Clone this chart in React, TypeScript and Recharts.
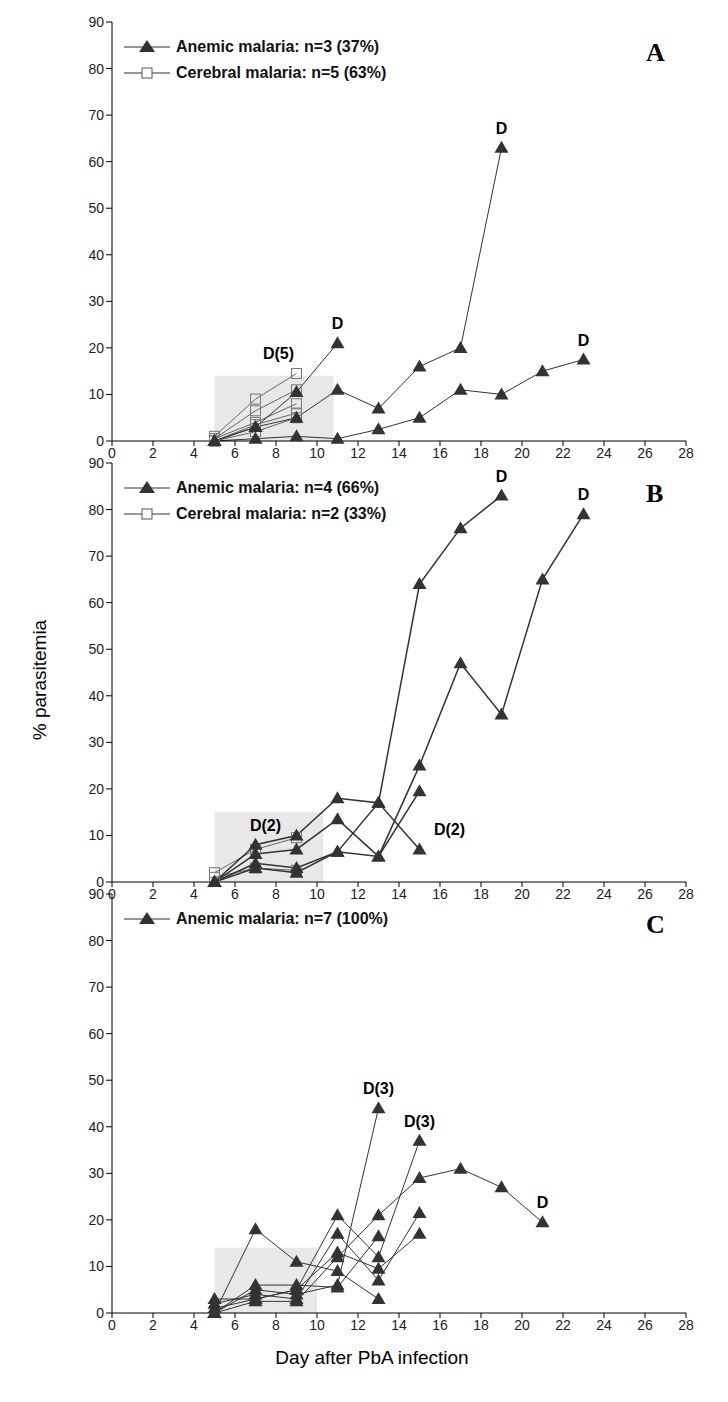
import React from "react";
import {
  LineChart,
  Line,
  XAxis,
  YAxis,
  ReferenceArea,
  ReferenceDot,
} from "recharts";

document.body.style.margin = "0";

type Pt = { day: number; pct: number };
const days = [5, 7, 9, 11, 13, 15, 17, 19, 21, 23];
const mk = (vals: number[]): Pt[] => vals.map((v, i) => ({ day: days[i], pct: v }));

const xTicks = [0, 2, 4, 6, 8, 10, 12, 14, 16, 18, 20, 22, 24, 26, 28];
const yTicks = [0, 10, 20, 30, 40, 50, 60, 70, 80, 90];

// Panel A
const anemicA = [
  [0, 3, 10.5, 21],
  [0, 3, 5, 11, 7, 16, 20, 63],
  [0, 0.5, 1, 0.5, 2.5, 5, 11, 10, 15, 17.5],
];
const cerebralA = [
  [1, 9, 14.5],
  [0.5, 6.5, 11],
  [0.5, 4, 8],
  [0, 3.5, 6],
  [0, 2, 5],
];
const labelsA = [
  { day: 9, pct: 14.5, text: "D(5)", dx: -18 },
  { day: 11, pct: 21, text: "D", dx: 0 },
  { day: 19, pct: 63, text: "D", dx: 0 },
  { day: 23, pct: 17.5, text: "D", dx: 0 },
];

// Panel B
const anemicB = [
  [0, 8, 10, 18, 17, 64, 76, 83],
  [0, 6, 7, 13.5, 5.5, 25, 47, 36, 65, 79],
  [0, 3, 2, 6.5, 17, 7],
  [0, 4, 3, 6.5, 5.5, 19.5],
];
const cerebralB = [
  [2, 7, 9.5],
  [1, 3, 2.5],
];
const labelsB = [
  { day: 7, pct: 8, text: "D(2)", dx: 10 },
  { day: 15, pct: 7, text: "D(2)", dx: 30 },
  { day: 19, pct: 83, text: "D", dx: 0 },
  { day: 23, pct: 79, text: "D", dx: 0 },
];

// Panel C
const anemicC = [
  [0, 18, 11, 9, 3],
  [1, 3, 5, 21, 12, 37],
  [0, 5, 4, 6, 44],
  [2, 4, 3, 17, 7, 21.5],
  [0, 2.5, 2.5, 12, 21, 29, 31, 27, 19.5],
  [0, 6, 6, 5.5, 16.5],
  [3, 3, 5, 13, 9.5, 17],
];
const labelsC = [
  { day: 13, pct: 44, text: "D(3)", dx: 0 },
  { day: 15, pct: 37, text: "D(3)", dx: 0 },
  { day: 21, pct: 19.5, text: "D", dx: 0 },
];

const Tri = (props: any) => {
  const { cx, cy } = props;
  if (cx == null || cy == null) return null;
  return <path d={`M${cx},${cy - 7}L${cx + 7},${cy + 5}L${cx - 7},${cy + 5}Z`} fill="#333" />;
};
const Sq = (props: any) => {
  const { cx, cy } = props;
  if (cx == null || cy == null) return null;
  return <rect x={cx - 5} y={cy - 5} width={10} height={10} fill="none" stroke="#777" strokeWidth={1} />;
};

const tickStyle = { fontFamily: "Liberation Sans, Arial", fontSize: 14, fill: "#222" };

function Panel({
  top,
  anemic,
  cerebral,
  labels,
  shadeX,
  shadeY,
  letter,
  legend,
  strokeW,
}: {
  top: number;
  anemic: number[][];
  cerebral: number[][];
  labels: { day: number; pct: number; text: string; dx: number }[];
  shadeX: number;
  shadeY: number;
  letter: string;
  legend: string[];
  strokeW: number;
}) {
  return (
    <div style={{ position: "absolute", top, left: 0, width: 728, height: 470 }}>
      <LineChart width={728} height={470} margin={{ top: 22, right: 42, bottom: 4, left: 72 }}>
        <XAxis
          type="number"
          dataKey="day"
          domain={[0, 28]}
          ticks={xTicks}
          height={25}
          tick={tickStyle}
          tickSize={5}
          stroke="#000"
          allowDuplicatedCategory={false}
        />
        <YAxis
          type="number"
          dataKey="pct"
          domain={[0, 90]}
          ticks={yTicks}
          width={40}
          tick={tickStyle}
          tickSize={6}
          stroke="#000"
        />
        <ReferenceArea x1={5} x2={shadeX} y1={0} y2={shadeY} fill="#e8e8e8" fillOpacity={1} stroke="none" />
        {cerebral.map((s, i) => (
          <Line
            key={"c" + i}
            data={mk(s)}
            dataKey="pct"
            stroke="#666"
            strokeWidth={1}
            dot={<Sq />}
            isAnimationActive={false}
          />
        ))}
        {anemic.map((s, i) => (
          <Line
            key={"a" + i}
            data={mk(s)}
            dataKey="pct"
            stroke="#333"
            strokeWidth={strokeW}
            dot={<Tri />}
            isAnimationActive={false}
          />
        ))}
        {labels.map((l, i) => (
          <ReferenceDot
            key={"l" + i}
            x={l.day}
            y={l.pct}
            r={0}
            label={{
              value: l.text,
              position: "top",
              offset: 14,
              dx: l.dx,
              style: { fontFamily: "Liberation Sans, Arial", fontWeight: "bold", fontSize: 16, fill: "#000" },
            }}
          />
        ))}
      </LineChart>
      <div
        style={{
          position: "absolute",
          left: 124,
          top: 34,
          fontFamily: "Liberation Sans, Arial",
          fontWeight: "bold",
          fontSize: 16,
          color: "#111",
          lineHeight: "26px",
        }}
      >
        {legend.map((t, i) => (
          <div key={i} style={{ display: "flex", alignItems: "center" }}>
            <svg width={46} height={16}>
              <line x1={0} y1={8} x2={46} y2={8} stroke="#333" strokeWidth={1} />
              {i === 0 ? (
                <path d="M23,1L31,13L15,13Z" fill="#333" />
              ) : (
                <rect x={18} y={3} width={10} height={10} fill="#fff" stroke="#555" />
              )}
            </svg>
            <span style={{ marginLeft: 6 }}>{t}</span>
          </div>
        ))}
      </div>
      <div
        style={{
          position: "absolute",
          left: 646,
          top: 38,
          fontFamily: "Liberation Serif, Times New Roman",
          fontWeight: "bold",
          fontSize: 26,
          color: "#000",
        }}
      >
        {letter}
      </div>
    </div>
  );
}

export default function App() {
  return (
    <div style={{ position: "relative", width: 728, height: 1402, background: "#fff" }}>
      <Panel
        top={0}
        anemic={anemicA}
        cerebral={cerebralA}
        labels={labelsA}
        shadeX={10.8}
        shadeY={14}
        letter="A"
        legend={["Anemic malaria: n=3 (37%)", "Cerebral malaria: n=5 (63%)"]}
        strokeW={1}
      />
      <Panel
        top={441}
        anemic={anemicB}
        cerebral={cerebralB}
        labels={labelsB}
        shadeX={10.3}
        shadeY={15}
        letter="B"
        legend={["Anemic malaria: n=4 (66%)", "Cerebral malaria: n=2 (33%)"]}
        strokeW={1.5}
      />
      <Panel
        top={872}
        anemic={anemicC}
        cerebral={[]}
        labels={labelsC}
        shadeX={10}
        shadeY={14}
        letter="C"
        legend={["Anemic malaria: n=7 (100%)"]}
        strokeW={1}
      />
      <div
        style={{
          position: "absolute",
          left: 40,
          top: 680,
          transform: "translate(-50%,-50%) rotate(-90deg)",
          fontFamily: "Liberation Sans, Arial",
          fontSize: 19,
          whiteSpace: "nowrap",
        }}
      >
        % parasitemia
      </div>
      <div
        style={{
          position: "absolute",
          left: 372,
          top: 1358,
          transform: "translate(-50%,-50%)",
          fontFamily: "Liberation Sans, Arial",
          fontSize: 19,
          whiteSpace: "nowrap",
        }}
      >
        Day after PbA infection
      </div>
    </div>
  );
}
